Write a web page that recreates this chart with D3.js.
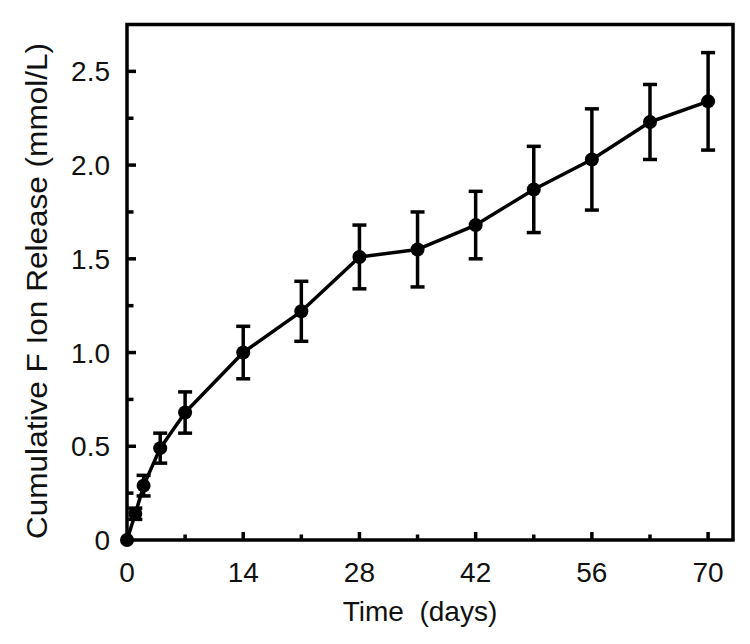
<!DOCTYPE html>
<html>
<head>
<meta charset="utf-8">
<script src="https://cdn.jsdelivr.net/npm/d3@7"></script>
<style>
  html, body { margin: 0; padding: 0; background: #fff; }
  svg { display: block; }
  text { font-family: "Liberation Sans", Arial, sans-serif; fill: #111; }
</style>
</head>
<body>
<svg id="chart" width="750" height="644"></svg>
<script>
// Data
const days   = [0, 1, 2, 4, 7, 14, 21, 28, 35, 42, 49, 56, 63, 70];
const values = [0, 0.14, 0.29, 0.49, 0.68, 1.00, 1.22, 1.51, 1.55, 1.68, 1.87, 2.03, 2.23, 2.34];
const errors = [0, 0.03, 0.055, 0.08, 0.11, 0.14, 0.16, 0.17, 0.20, 0.18, 0.23, 0.27, 0.20, 0.26];
const xMajorTicks = [0, 14, 28, 42, 56, 70];
const xMinorTicks = [7, 21, 35, 49, 63];
const yMajorTicks = [0, 0.5, 1.0, 1.5, 2.0, 2.5];
const yMinorTicks = [0.25, 0.75, 1.25, 1.75, 2.25];
const yTickLabels = ["0", "0.5", "1.0", "1.5", "2.0", "2.5"];
const xTickLabels = ["0", "14", "28", "42", "56", "70"];
const xTitle = "Time  (days)";
const yTitle = "Cumulative F Ion Release (mmol/L)";

const svg = d3.select("#chart");
const L = 127, R = 733, T = 24.5, B = 540;
const SW = 3.5;
const x = d3.scaleLinear().domain([0, 73]).range([L, R]);
const y = d3.scaleLinear().domain([0, 2.75]).range([B, T]);

const data = days.map((d, i) => ({ d, v: values[i], e: errors[i] }));

// frame
svg.append("rect")
  .attr("x", L).attr("y", T).attr("width", R - L).attr("height", B - T)
  .attr("fill", "none").attr("stroke", "#000").attr("stroke-width", SW);

// inward ticks
const ticks = svg.append("g").attr("stroke", "#000").attr("stroke-width", SW);
ticks.selectAll(".ymaj").data(yMajorTicks.filter(v => v > 0)).join("line")
  .attr("x1", L).attr("x2", L + 9).attr("y1", v => y(v)).attr("y2", v => y(v));
ticks.selectAll(".ymin").data(yMinorTicks).join("line")
  .attr("x1", L).attr("x2", L + 6.5).attr("y1", v => y(v)).attr("y2", v => y(v));
ticks.selectAll(".xmaj").data(xMajorTicks.filter(v => v > 0)).join("line")
  .attr("y1", B).attr("y2", B - 8).attr("x1", v => x(v)).attr("x2", v => x(v));
ticks.selectAll(".xmin").data(xMinorTicks).join("line")
  .attr("y1", B).attr("y2", B - 5.5).attr("x1", v => x(v)).attr("x2", v => x(v));

// tick labels
svg.append("g").selectAll("text").data(yMajorTicks).join("text")
  .attr("x", 110).attr("y", v => y(v))
  .attr("dy", "0.36em")
  .attr("text-anchor", "end")
  .style("font-size", "28px")
  .text((v, i) => yTickLabels[i]);

svg.append("g").selectAll("text").data(xMajorTicks).join("text")
  .attr("x", v => x(v)).attr("y", 582)
  .attr("text-anchor", "middle")
  .style("font-size", "28px")
  .text((v, i) => xTickLabels[i]);

// line
svg.append("path")
  .datum(data)
  .attr("fill", "none").attr("stroke", "#000").attr("stroke-width", SW)
  .attr("stroke-linejoin", "round")
  .attr("d", d3.line().x(p => x(p.d)).y(p => y(p.v)));

// error bars
const eb = svg.append("g").attr("stroke", "#000").attr("stroke-width", SW)
  .selectAll("g").data(data.filter(p => p.e > 0)).join("g");
eb.append("line")
  .attr("x1", p => x(p.d)).attr("x2", p => x(p.d))
  .attr("y1", p => y(p.v - p.e)).attr("y2", p => y(p.v + p.e));
eb.append("line")
  .attr("x1", p => x(p.d) - 7).attr("x2", p => x(p.d) + 7)
  .attr("y1", p => y(p.v + p.e)).attr("y2", p => y(p.v + p.e));
eb.append("line")
  .attr("x1", p => x(p.d) - 7).attr("x2", p => x(p.d) + 7)
  .attr("y1", p => y(p.v - p.e)).attr("y2", p => y(p.v - p.e));

// markers
svg.append("g").selectAll("circle").data(data).join("circle")
  .attr("cx", p => x(p.d)).attr("cy", p => y(p.v)).attr("r", 7).attr("fill", "#000");

// titles
svg.append("text")
  .attr("x", 420).attr("y", 621)
  .attr("text-anchor", "middle")
  .style("font-size", "28px")
  .style("white-space", "pre")
  .attr("xml:space", "preserve")
  .text(xTitle);

svg.append("text")
  .attr("transform", "translate(47,291) rotate(-90)")
  .attr("text-anchor", "middle")
  .style("font-size", "30px")
  .attr("textLength", 496)
  .attr("lengthAdjust", "spacingAndGlyphs")
  .text(yTitle);
</script>
</body>
</html>
